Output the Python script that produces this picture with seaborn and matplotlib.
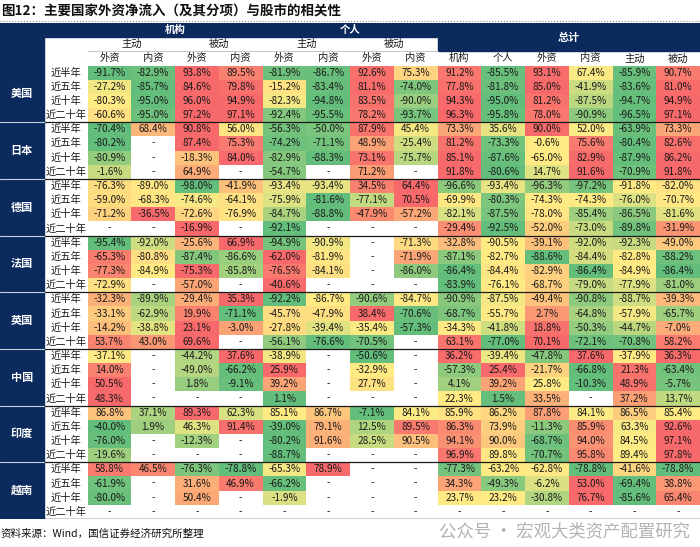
import numpy as np
import pandas as pd
import matplotlib
matplotlib.use('Agg')
import matplotlib.pyplot as plt
import seaborn as sns
from matplotlib.colors import LinearSegmentedColormap
from matplotlib.patches import Rectangle

sns.set_theme(style='white')
plt.rcParams['font.family'] = ['Noto Sans CJK SC', 'DejaVu Sans']

N = np.nan
title = '图12：主要国家外资净流入（及其分项）与股市的相关性'
source = '资料来源：Wind，国信证券经济研究所整理'
watermark = '公众号 · 宏观大类资产配置研究'

countries = ['美国', '日本', '德国', '法国', '英国', '中国', '印度', '越南']
periods = ['近半年', '近五年', '近十年', '近二十年']
groups = ['机构', '个人']
styles = ['主动', '被动']
sources = ['外资', '内资']
total_label = '总计'
total_cols = ['机构', '个人', '外资', '内资', '主动', '被动']

# columns: 机构(主动外资, 主动内资, 被动外资, 被动内资), 个人(same), 总计(机构, 个人, 外资, 内资, 主动, 被动)
us = [[-91.7, -82.9, 93.8, 89.5, -81.9, -86.7, 92.6, 75.3, 91.2, -85.5, 93.1, 67.4, -85.9, 90.7],
      [-27.2, -85.7, 84.6, 79.8, -15.2, -83.4, 81.1, -74.0, 77.8, -81.8, 85.0, -41.9, -83.6, 81.0],
      [-80.3, -95.0, 96.0, 94.9, -82.3, -94.8, 83.5, -90.0, 94.3, -95.0, 81.2, -87.5, -94.7, 94.9],
      [-60.6, -95.0, 97.2, 97.1, -92.4, -95.5, 78.2, -93.7, 96.3, -95.8, 78.0, -90.9, -96.5, 97.1]]
jp = [[-70.4, 68.4, 90.8, 56.0, -56.3, -50.0, 87.9, 45.4, 73.3, 35.6, 90.0, 52.0, -63.9, 73.3],
      [-80.2, N, 87.4, 75.3, -74.2, -71.1, 48.9, -25.4, 81.2, -73.3, -0.6, 75.6, -80.4, 82.6],
      [-80.9, N, -18.3, 84.0, -82.9, -88.3, 73.1, -75.7, 85.1, -87.6, -65.0, 82.9, -87.9, 86.2],
      [-1.6, N, 64.9, N, -54.7, N, 71.2, N, 91.8, -80.6, 14.7, 91.6, -70.9, 91.8]]
de = [[-76.3, -89.0, -98.0, -41.9, -93.4, -93.4, 34.5, 64.4, -96.6, -93.4, -96.3, -97.2, -91.8, -82.0],
      [-59.0, -68.3, -74.6, -64.1, -75.9, -81.6, -77.1, 70.5, -69.9, -80.3, -74.3, -74.3, -76.0, -70.7],
      [-71.2, -36.5, -72.6, -76.9, -84.7, -88.8, -47.9, -57.2, -82.1, -87.5, -78.0, -85.4, -86.5, -81.6],
      [N, N, -16.9, N, -92.1, N, N, N, -29.4, -92.5, -52.0, -73.0, -89.8, -31.9]]
fr = [[-95.4, -92.0, -25.6, 66.9, -94.9, -90.9, N, -71.3, -32.8, -90.5, -39.1, -92.0, -92.3, -49.0],
      [-65.3, -80.8, -87.4, -86.6, -62.0, -81.9, N, -71.9, -87.1, -82.7, -88.6, -84.4, -82.8, -88.2],
      [-77.3, -84.9, -75.3, -85.8, -76.5, -84.1, N, -86.0, -86.4, -84.4, -82.9, -86.4, -84.9, -86.4],
      [-72.9, N, -57.0, N, -40.6, N, N, N, -83.9, -76.1, -68.7, -79.0, -77.9, -81.0]]
uk = [[-32.3, -89.9, -29.4, 35.3, -92.2, -86.7, -90.6, -84.7, -90.9, -87.5, -49.4, -90.8, -88.7, -39.3],
      [-33.1, -62.9, 19.9, -71.1, -45.7, -47.9, 38.4, -70.6, -68.7, -55.7, 2.7, -64.8, -57.9, -65.7],
      [-14.2, -38.8, 23.1, -3.0, -27.8, -39.4, -35.4, -57.3, -34.3, -41.8, 18.8, -50.3, -44.7, -7.0],
      [53.7, 43.0, 69.6, N, -56.1, -76.6, -70.5, N, 63.1, -77.0, 70.1, -72.1, -70.8, 58.2]]
cn = [[-37.1, N, -44.2, 37.6, -38.9, N, -50.6, N, 36.2, -39.4, -47.8, 37.6, -37.9, 36.3],
      [14.0, N, -49.0, -66.2, 25.9, N, -32.9, N, -57.3, 25.4, -21.7, -66.8, 21.3, -63.4],
      [50.5, N, 1.8, -9.1, 39.2, N, 27.7, N, 4.1, 39.2, 25.8, -10.3, 48.9, -5.7],
      [48.3, N, N, N, 1.1, N, N, N, 22.3, 1.5, 33.5, N, 37.2, 13.7]]
ind = [[86.8, 37.1, 89.3, 62.3, 85.1, 86.7, -7.1, 84.1, 85.9, 86.2, 87.8, 84.1, 86.5, 85.4],
       [-40.0, 1.9, 46.3, 91.4, -39.0, 79.1, 12.5, 89.5, 86.3, 73.9, -11.3, 85.9, 63.3, 92.6],
       [-76.0, N, -12.3, N, -80.2, 91.6, 28.5, 90.5, 94.1, 90.0, -68.7, 94.0, 84.5, 97.1],
       [-19.6, N, N, N, -88.7, N, N, N, 96.9, 89.8, -70.7, 95.8, 89.4, 97.8]]
vn = [[58.8, 46.5, -76.3, -78.8, -65.3, 78.9, N, N, -77.3, -63.2, -62.8, -78.8, -41.6, -78.8],
      [-61.9, N, 31.6, 46.9, -66.2, N, N, N, 34.3, -49.3, -6.2, 53.0, -69.4, 38.8],
      [-80.0, N, 50.4, N, -1.9, N, N, N, 23.7, 23.2, -30.8, 76.7, -85.6, 65.4],
      [N, N, N, N, N, N, N, N, N, N, N, N, N, N]]

blocks = [us, jp, de, fr, uk, cn, ind, vn]
col_names = [f'{g}{s}{src}' for g in groups for s in styles for src in sources] + [f'总计{t}' for t in total_cols]
idx = pd.MultiIndex.from_product([countries, periods])
df = pd.DataFrame(np.vstack([np.array(b, dtype=float) for b in blocks]), index=idx, columns=col_names)

# Excel-style 3-colour scale per row: min -> green, 50th percentile -> yellow, max -> red
def row_scale(r):
    v = r.values
    ok = ~np.isnan(v)
    out = np.full_like(v, np.nan)
    if ok.sum() == 0:
        return pd.Series(out, index=r.index)
    mn, mx = v[ok].min(), v[ok].max()
    md = np.percentile(v[ok], 50)
    for k in np.where(ok)[0]:
        x = v[k]
        if x <= md:
            out[k] = 0.5 * (x - mn) / (md - mn) if md > mn else 0.5
        else:
            out[k] = 0.5 + 0.5 * (x - md) / (mx - md) if mx > md else 0.5
    return pd.Series(out, index=r.index)

norm = df.apply(row_scale, axis=1)
labels = df.map(lambda x: '' if np.isnan(x) else f'{x:.1f}%')
cmap = LinearSegmentedColormap.from_list('excel3', ['#63BE7B', '#FFEB84', '#F8696B'])

W, H = 700, 547
fig = plt.figure(figsize=(W / 100, H / 100), dpi=100)
fig.patch.set_facecolor('white')

NAVY = '#0B2A5E'
TXT = '#1a1a1a'
top_px, bot_px = 23, 519
ax = fig.add_axes([0, 1 - bot_px / H, 1, (bot_px - top_px) / H])
sns.heatmap(norm, mask=norm.isna(), cmap=cmap, vmin=0, vmax=1, annot=labels.values, fmt='',
            cbar=False, xticklabels=False, yticklabels=False, linewidths=0, ax=ax,
            annot_kws=dict(fontsize=7.2, color=TXT))
nrow, ncol = df.shape
ax.set_xlim(-2, ncol)
ax.set_ylim(nrow, -3)
ax.set_xlabel('')
ax.set_ylabel('')
ax.tick_params(length=0)
for sp in ax.spines.values():
    sp.set_visible(False)

# '-' for missing cells
for i in range(nrow):
    for j in range(ncol):
        if np.isnan(df.values[i, j]):
            ax.text(j + 0.5, i + 0.5, '-', ha='center', va='center', fontsize=7.2, color=TXT)

# header backgrounds
ax.add_patch(Rectangle((-2, -3), 1, nrow + 3, color=NAVY, zorder=0))
ax.add_patch(Rectangle((-2, -3), ncol + 2, 1, color=NAVY, zorder=0))
ax.add_patch(Rectangle((8, -3), 6, 2, color=NAVY, zorder=0))

for g, name in enumerate(groups):
    ax.text(4 * g + 2, -2.5, name, ha='center', va='center', color='white', fontsize=7.5, weight='bold')
    for s, st in enumerate(styles):
        ax.text(4 * g + 2 * s + 1, -1.5, st, ha='center', va='center', color=TXT, fontsize=7.4)
        for k, src in enumerate(sources):
            ax.text(4 * g + 2 * s + k + 0.5, -0.5, src, ha='center', va='center', color=TXT, fontsize=7.4)
ax.text(11, -2, total_label, ha='center', va='center', color='white', fontsize=8, weight='bold')
for k, t in enumerate(total_cols):
    ax.text(8 + k + 0.5, -0.5, t, ha='center', va='center', color=TXT, fontsize=7.4)
ax.plot([0, 8], [-1, -1], color='#bbbbbb', lw=0.6)

for c, cname in enumerate(countries):
    ax.text(-1.5, 4 * c + 2, cname, ha='center', va='center', color='white', fontsize=8, weight='bold')
    for p, pname in enumerate(periods):
        ax.text(-0.5, 4 * c + p + 0.5, pname, ha='center', va='center', color=TXT, fontsize=7.4)
for c in range(1, len(countries)):
    ax.plot([-1, ncol], [4 * c, 4 * c], color='#1a1a1a', lw=0.9)
    ax.plot([-2, -1], [4 * c, 4 * c], color='#c8d0dc', lw=0.8)
ax.plot([-1, ncol], [nrow, nrow], color='#1a1a1a', lw=1.0)

# title, dotted rule, footer, watermark
fig.text(1 / W, 1 - 12 / H, title, fontsize=9.7, weight='bold', color='#111111', va='center', ha='left')
fig.add_artist(plt.Line2D([0, 1], [1 - 21 / H, 1 - 21 / H], color='#888888', lw=0.8, linestyle=':'))
fig.text(1 / W, 1 - 534 / H, source, fontsize=7.6, color='#111111', va='center', ha='left')
fig.text(690 / W, 1 - 531 / H, watermark, fontsize=12.5, color='#9a9a9a', alpha=0.75,
         va='center', ha='right')

fig.savefig('out.png', dpi=100, facecolor='white')
